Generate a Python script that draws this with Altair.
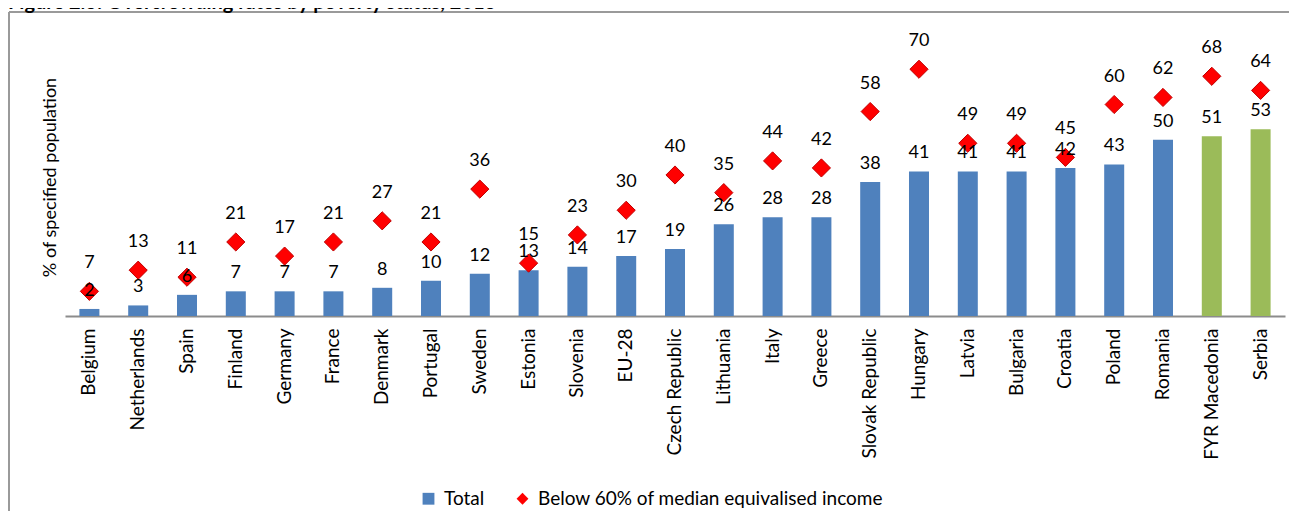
import altair as alt
import pandas as pd

countries = ["Belgium", "Netherlands", "Spain", "Finland", "Germany", "France", "Denmark",
             "Portugal", "Sweden", "Estonia", "Slovenia", "EU-28", "Czech Republic", "Lithuania",
             "Italy", "Greece", "Slovak Republic", "Hungary", "Latvia", "Bulgaria", "Croatia",
             "Poland", "Romania", "FYR Macedonia", "Serbia"]
total = [2, 3, 6, 7, 7, 7, 8, 10, 12, 13, 14, 17, 19, 26, 28, 28, 38, 41, 41, 41, 42, 43, 50, 51, 53]
below = [7, 13, 11, 21, 17, 21, 27, 21, 36, 15, 23, 30, 40, 35, 44, 42, 58, 70, 49, 49, 45, 60, 62, 68, 64]
non_eu = ["FYR Macedonia", "Serbia"]

TOTAL = "Total"
BELOW = "Below 60% of median equivalised income"
TITLE = "Figure 2.3: Overcrowding rates by poverty status, 2013"
FONT = "Lato"

df = pd.DataFrame({"country": countries, "total": total, "below": below})
df["grp"] = ["Non-EU" if c in non_eu else TOTAL for c in countries]
df["series"] = BELOW
one = pd.DataFrame({"a": [0]})

x = alt.X("country:N", sort=countries,
          scale=alt.Scale(paddingInner=0.59, paddingOuter=0.295),
          axis=alt.Axis(title=None, labelAngle=-90, labelFont=FONT, labelFontSize=19,
                        labelColor="black", labelPadding=12, ticks=False,
                        domainColor="#8c8c8c", domainWidth=2, grid=False, labelLimit=300))
yscale = alt.Scale(domain=[0, 80], nice=False, zero=True)

bars = alt.Chart(df).mark_bar().encode(
    x=x,
    y=alt.Y("total:Q", scale=yscale,
            axis=alt.Axis(title="% of specified population", labels=False, ticks=False,
                          domain=False, grid=False, titleFont=FONT, titleFontSize=18,
                          titleFontWeight="normal", titleColor="black", titleX=-15, titleY=143,
                          titleAngle=-90, titleBaseline="middle", titleAlign="center")),
    color=alt.Color("grp:N", scale=alt.Scale(domain=[TOTAL, "Non-EU"],
                                             range=["#4F81BD", "#9BBB59"]), legend=None),
)

bar_labels = alt.Chart(df).mark_text(font=FONT, fontSize=18, baseline="alphabetic", dy=-13,
                                     color="black").encode(
    x=alt.X("country:N", sort=countries), y=alt.Y("total:Q", scale=yscale), text="total:Q")

legend = alt.Legend(title=None, orient="none", legendX=354, legendY=455, direction="horizontal",
                    labelFont=FONT, labelFontSize=19, labelColor="black", symbolSize=140,
                    columnPadding=28, symbolStrokeWidth=0, labelLimit=500, labelOffset=6)

points = alt.Chart(df).mark_point(filled=True, size=330, opacity=1).encode(
    x=alt.X("country:N", sort=countries),
    y=alt.Y("below:Q", scale=yscale),
    color=alt.Color("series:N", scale=alt.Scale(domain=[TOTAL, BELOW],
                                                range=["#4F81BD", "#FF0000"]), legend=legend),
    shape=alt.Shape("series:N", scale=alt.Scale(domain=[TOTAL, BELOW],
                                                range=["square", "diamond"]), legend=legend),
)

point_edges = alt.Chart(df).mark_point(shape="diamond", filled=False, size=330,
                                       color="#C00000", strokeWidth=1, opacity=1).encode(
    x=alt.X("country:N", sort=countries), y=alt.Y("below:Q", scale=yscale))

point_labels = alt.Chart(df).mark_text(font=FONT, fontSize=18, baseline="alphabetic", dy=-23,
                                       color="black").encode(
    x=alt.X("country:N", sort=countries), y=alt.Y("below:Q", scale=yscale), text="below:Q")

frame_top = alt.Chart(one).mark_rule(color="#9a9a9a", strokeWidth=2).encode(
    x=alt.value(-56), x2=alt.value(1229), y=alt.value(-22))
frame_left = alt.Chart(one).mark_rule(color="#9a9a9a", strokeWidth=2).encode(
    x=alt.value(-56), y=alt.value(-22), y2=alt.value(487))

title = alt.Chart(one).mark_text(text=TITLE, font=FONT, fontSize=20, fontWeight="bold",
                                 align="left", baseline="alphabetic", color="black").encode(
    x=alt.value(-57), y=alt.value(-25))

chart = alt.layer(frame_top, frame_left, title, bars, points, point_edges, point_labels,
                  bar_labels).resolve_scale(
    color="independent", shape="independent"
).properties(
    width=1220, height=282,
    autosize=alt.AutoSizeParams(type="none"),
    padding={"left": 57, "top": 26, "right": 4, "bottom": 195},
    background="white",
).configure_view(strokeWidth=0, stroke="transparent")

chart.save("out.html", embed_options={"renderer": "svg", "actions": False})
